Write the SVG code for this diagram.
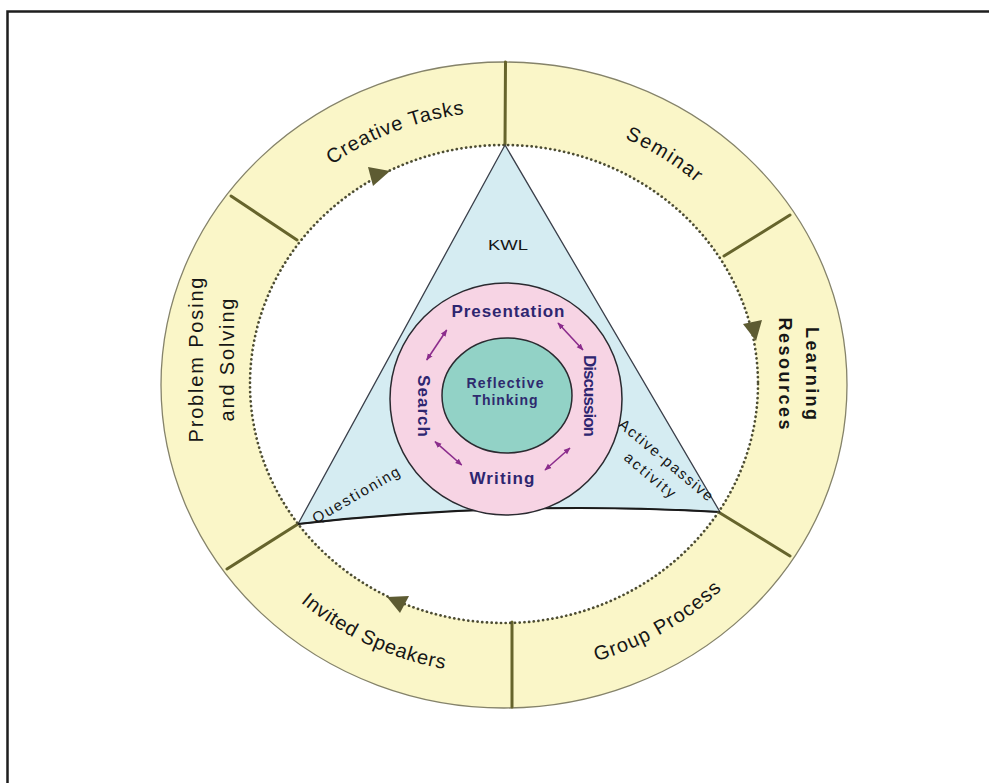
<svg xmlns="http://www.w3.org/2000/svg" width="989" height="783" viewBox="0 0 989 783">
  <defs>
    <style>
      .lbl{font-family:"Liberation Sans",Arial,sans-serif;font-size:20px;fill:#161616}
      .lblb{font-family:"Liberation Sans",Arial,sans-serif;font-size:18px;font-weight:bold;fill:#161616}
      .core{font-family:"Liberation Sans",Arial,sans-serif;font-size:17px;font-weight:bold;fill:#2e2670}
      .hub{font-family:"Liberation Sans",Arial,sans-serif;font-size:14px;font-weight:bold;fill:#2e2a6e}
      .tri{font-family:"Liberation Sans",Arial,sans-serif;font-size:15px;fill:#161616}
      .div{stroke:#66642c;stroke-width:3;stroke-linecap:round}
      .head{fill:#5d5b32}
      .swap{stroke:#8b2c8c;stroke-width:1.6;fill:none;marker-start:url(#pa);marker-end:url(#pa)}
    </style>
    <marker id="pa" viewBox="0 0 10 10" refX="9" refY="5" markerWidth="7" markerHeight="7" markerUnits="userSpaceOnUse" orient="auto-start-reverse">
      <path d="M0,1 L10,5 L0,9 Z" fill="#8b2c8c"/>
    </marker>
    <!-- baselines for the curved ring labels (elliptical arcs around the ring centre) -->
    <path id="arcCreative" d="M252.9,248 A289.9,273 0 0 1 579,120.8"/>
    <path id="arcSeminar" d="M554,117.6 A287.8,271 0 0 1 745.4,236.9"/>
    <path id="arcGroup" d="M512.1,674.4 A308,290 0 0 0 774.7,522.9"/>
    <path id="arcInvited" d="M247.2,544.6 A308,290 0 0 0 522.8,674"/>
  </defs>

  <rect width="989" height="783" fill="#ffffff"/>
  <path d="M7.5,783 V11.5 H989" fill="none" stroke="#1e1e1e" stroke-width="2.5"/>

  <!-- outer activity ring -->
  <g id="ring">
    <ellipse cx="504" cy="385" rx="343" ry="323" fill="#faf6c8" stroke="#85836a" stroke-width="1.3"/>
    <ellipse cx="504" cy="384" rx="254" ry="239" fill="#ffffff"/>
    <line class="div" x1="505" y1="145" x2="505.5" y2="62"/>
    <line class="div" x1="724" y1="256" x2="790" y2="215"/>
    <line class="div" x1="720" y1="513" x2="790" y2="556"/>
    <line class="div" x1="512" y1="622" x2="512" y2="707" stroke="#3e3d22"/>
    <line class="div" x1="298" y1="524" x2="227" y2="569"/>
    <line class="div" x1="297" y1="240" x2="231" y2="196"/>
  </g>

  <!-- central triangle -->
  <g id="triangle">
    <path d="M505,145 L298,524 Q509,500 720,512 Z" fill="#d5ecf2" stroke="#3a3f4a" stroke-width="1.3" stroke-linejoin="round"/>
    <path d="M298,524 Q509,500 720,512" fill="none" stroke="#1a1a1a" stroke-width="2.2"/>
    <text class="tri" x="508" y="250" text-anchor="middle" font-size="17" textLength="40" lengthAdjust="spacingAndGlyphs">KWL</text>
    <text class="tri" transform="translate(356,495) rotate(-30)" x="0" y="5" text-anchor="middle" font-size="16" textLength="98" lengthAdjust="spacing">Questioning</text>
    <g transform="translate(666,460) rotate(40)">
      <text class="tri" x="0" y="5" text-anchor="middle" textLength="118" lengthAdjust="spacing">Active-passive</text>
      <text class="tri" x="-2.6" y="27" text-anchor="middle" textLength="62" lengthAdjust="spacing">activity</text>
    </g>
  </g>

  <!-- inner ring of practices -->
  <g id="practices">
    <circle cx="506" cy="399" r="116" fill="#f7d4e4" stroke="#2a2a30" stroke-width="1.5"/>
  </g>
  <g id="presentation"><text class="core" x="508" y="317" text-anchor="middle" textLength="113" lengthAdjust="spacing">Presentation</text></g>
  <g id="discussion"><text class="core" transform="translate(590,396) rotate(90)" x="0" y="6" text-anchor="middle" textLength="82" lengthAdjust="spacing">Discussion</text></g>
  <g id="writing"><text class="core" x="502" y="484" text-anchor="middle" textLength="65" lengthAdjust="spacing">Writing</text></g>
  <g id="search"><text class="core" transform="translate(424,406) rotate(90)" x="0" y="6" text-anchor="middle" textLength="62" lengthAdjust="spacing">Search</text></g>

  <!-- hub -->
  <g id="reflective-thinking">
    <ellipse cx="507" cy="395.5" rx="65" ry="57.5" fill="#92d2c6" stroke="#2a2a30" stroke-width="1.5"/>
    <text class="hub" x="505" y="388" text-anchor="middle" textLength="77" lengthAdjust="spacing">Reflective</text>
    <text class="hub" x="505" y="405" text-anchor="middle" textLength="65" lengthAdjust="spacing">Thinking</text>
  </g>

  <!-- ring segment labels -->
  <g id="creative-tasks"><text class="lbl"><textPath href="#arcCreative" startOffset="50%" text-anchor="middle" textLength="143" lengthAdjust="spacing">Creative Tasks</textPath></text></g>
  <g id="seminar"><text class="lbl"><textPath href="#arcSeminar" startOffset="50%" text-anchor="middle" textLength="84" lengthAdjust="spacing">Seminar</textPath></text></g>
  <g id="learning-resources" transform="translate(792,373.5) rotate(90)">
    <text class="lblb" x="0" y="-14" text-anchor="middle" textLength="93" lengthAdjust="spacing">Learning</text>
    <text class="lblb" x="0" y="13" text-anchor="middle" textLength="112" lengthAdjust="spacing">Resources</text>
  </g>
  <g id="group-process"><text class="lbl"><textPath href="#arcGroup" startOffset="50%" text-anchor="middle" textLength="146" lengthAdjust="spacing">Group Process</textPath></text></g>
  <g id="invited-speakers"><text class="lbl"><textPath href="#arcInvited" startOffset="50%" text-anchor="middle" textLength="160" lengthAdjust="spacing">Invited Speakers</textPath></text></g>
  <g id="problem-posing" transform="translate(213,360) rotate(-90)">
    <text class="lbl" x="0" y="-10" text-anchor="middle" textLength="165" lengthAdjust="spacing">Problem Posing</text>
    <text class="lbl" x="0" y="21" text-anchor="middle" textLength="123" lengthAdjust="spacing">and Solving</text>
  </g>

  <!-- connectors: dotted cycle with heads, and exchanges between practices -->
  <g id="connectors">
    <ellipse cx="504" cy="384" rx="254" ry="239" fill="none" stroke="#4d4d33" stroke-width="2.7" stroke-dasharray="0.1 4.6" stroke-linecap="round"/>
    <polygon class="head" points="368,167 390,171 373,186"/>
    <polygon class="head" points="743,324 762,320 756,341"/>
    <polygon class="head" points="387,597 409,596 400,613"/>
    <line class="swap" x1="558" y1="323" x2="583" y2="350"/>
    <line class="swap" x1="446.7" y1="330" x2="426.7" y2="360"/>
    <line class="swap" x1="435" y1="441.7" x2="461.7" y2="465"/>
    <line class="swap" x1="570" y1="448" x2="545" y2="470"/>
  </g>
</svg>
